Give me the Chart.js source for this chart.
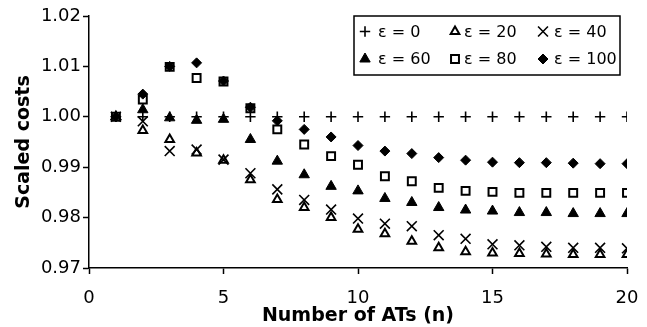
<!DOCTYPE html>
<html lang="en">
<head>
<meta charset="UTF-8">
<title>Scaled costs vs number of ATs</title>
<script src="https://cdn.jsdelivr.net/npm/chart.js@4"></script>
<style>
  body { margin: 0; background: #fff; }
  #wrap { width: 647px; height: 327px; }
</style>
</head>
<body>
<div id="wrap"><canvas id="costChart" width="647" height="327"></canvas></div>
<script>
// data
const nValues = [1, 2, 3, 4, 5, 6, 7, 8, 9, 10, 11, 12, 13, 14, 15, 16, 17, 18, 19, 20];
const eps0 = [1.000, 1.000, 1.000, 1.000, 1.000, 1.000, 1.000, 1.000, 1.000, 1.000,
              1.000, 1.000, 1.000, 1.000, 1.000, 1.000, 1.000, 1.000, 1.000, 1.000];
const eps20 = [1.000, 0.9973, 0.9955, 0.9928, 0.9914, 0.9875, 0.9836, 0.9820, 0.9800, 0.9777,
               0.9768, 0.9753, 0.9740, 0.9732, 0.9730, 0.9729, 0.9728, 0.9727, 0.9727, 0.9727];
const eps40 = [1.000, 0.9991, 0.9932, 0.9935, 0.9915, 0.9888, 0.9856, 0.9835, 0.9816, 0.9798,
               0.9788, 0.9783, 0.9765, 0.9758, 0.9747, 0.9745, 0.9742, 0.9740, 0.9740, 0.9739];
const eps60 = [1.000, 1.0014, 0.9998, 0.9993, 0.9995, 0.9955, 0.9912, 0.9885, 0.9862, 0.9853,
               0.9838, 0.9830, 0.9820, 0.9815, 0.9813, 0.9810, 0.9810, 0.9808, 0.9808, 0.9808];
const eps80 = [1.000, 1.0034, 1.0099, 1.0077, 1.0070, 1.0017, 0.9975, 0.9945, 0.9922, 0.9905,
               0.9882, 0.9872, 0.9859, 0.9853, 0.9851, 0.9849, 0.9849, 0.9849, 0.9849, 0.9849];
const eps100 = [1.000, 1.0045, 1.0100, 1.0107, 1.0071, 1.0019, 0.9992, 0.9975, 0.9960, 0.9943,
                0.9932, 0.9927, 0.9919, 0.9914, 0.9910, 0.9909, 0.9909, 0.9908, 0.9907, 0.9907];
const seriesLabels = ['ε = 0', 'ε = 20', 'ε = 40', 'ε = 60', 'ε = 80', 'ε = 100'];
const xTicks = [0, 5, 10, 15, 20];
const yTicks = [0.97, 0.98, 0.99, 1.00, 1.01, 1.02];

const FONT = '"DejaVu Sans", "Liberation Sans", Arial, sans-serif';

// marker look for each series: + , open triangle, x, filled triangle, open square, diamond
const markers = [
    { style: 'cross',    radius: 5.2, fill: '#000', width: 1.6 },
    { style: 'triangle', radius: 5,   fill: '#fff', width: 2 },
    { style: 'crossRot', radius: 7,   fill: '#000', width: 1.6 },
    { style: 'triangle', radius: 6,   fill: '#000', width: 1 },
    { style: 'rect',     radius: 5.6, fill: '#fff', width: 2 },
    { style: 'rectRot',  radius: 5,   fill: '#000', width: 1 }
];
const allSeries = [eps0, eps20, eps40, eps60, eps80, eps100];

const datasets = allSeries.map((vals, i) => ({
    label: seriesLabels[i],
    data: nValues.map((n, k) => ({ x: n, y: vals[k] })),
    showLine: false,
    pointStyle: markers[i].style,
    pointRadius: markers[i].radius,
    pointBackgroundColor: markers[i].fill,
    pointBorderColor: '#000',
    pointBorderWidth: markers[i].width,
    order: 5 - i
}));

// boxed legend, 3 columns x 2 rows, top right of plot
const boxLegend = {
    id: 'boxLegend',
    afterDraw(chart) {
        const ctx = chart.ctx;
        const area = chart.chartArea;
        const left = area.right - 273, top = area.top, w = 266, h = 59;
        ctx.save();
        ctx.fillStyle = '#fff';
        ctx.fillRect(left, top, w, h);
        ctx.strokeStyle = '#000';
        ctx.lineWidth = 1.5;
        ctx.strokeRect(left, top, w, h);
        const markX = [11, 101, 189];
        const textX = [24, 110, 200];
        const rowY = [15.5, 43];
        ctx.font = '16px ' + FONT;
        ctx.textBaseline = 'middle';
        ctx.textAlign = 'left';
        seriesLabels.forEach((lab, i) => {
            const col = i % 3, row = Math.floor(i / 3);
            const m = markers[i];
            ctx.fillStyle = m.fill;
            ctx.strokeStyle = '#000';
            ctx.lineWidth = m.width;
            Chart.helpers.drawPoint(ctx, { pointStyle: m.style, radius: m.radius, borderWidth: m.width },
                left + markX[col], top + rowY[row]);
            ctx.fillStyle = '#000';
            ctx.fillText(lab, left + textX[col], top + rowY[row] + 1);
        });
        ctx.restore();
    }
};

new Chart(document.getElementById('costChart').getContext('2d'), {
    type: 'scatter',
    data: { datasets: datasets },
    options: {
        responsive: false,
        devicePixelRatio: 1,
        animation: false,
        layout: { padding: { top: 16, right: 20, left: 0, bottom: 0 } },
        plugins: {
            legend: { display: false },
            tooltip: { enabled: false }
        },
        scales: {
            x: {
                type: 'linear',
                min: 0,
                max: 20,
                afterBuildTicks: (scale) => { scale.ticks = xTicks.map(v => ({ value: v })); },
                afterFit: (scale) => {
                    scale.height = 59;
                    scale.paddingLeft = 0;
                    scale.paddingRight = 0;
                },
                grid: { drawOnChartArea: false, tickLength: 6, tickColor: '#000', tickWidth: 1.5 },
                border: { color: '#000', width: 1.5 },
                ticks: { color: '#000', font: { family: FONT, size: 18 }, padding: 14, maxRotation: 0 },
                title: {
                    display: true,
                    text: 'Number of ATs (n)',
                    color: '#000',
                    font: { family: FONT, size: 19, weight: 'bold' },
                    padding: { top: 0, bottom: 0 }
                }
            },
            y: {
                min: 0.97,
                max: 1.02,
                afterBuildTicks: (scale) => { scale.ticks = yTicks.map(v => ({ value: v })); },
                afterFit: (scale) => { scale.width = 89; },
                grid: { drawOnChartArea: false, tickLength: 6, tickColor: '#000', tickWidth: 1.5 },
                border: { color: '#000', width: 1.5 },
                ticks: {
                    color: '#000',
                    font: { family: FONT, size: 18 },
                    padding: 2,
                    callback: (v) => v.toFixed(2)
                },
                title: {
                    display: true,
                    text: 'Scaled costs',
                    color: '#000',
                    font: { family: FONT, size: 19, weight: 'bold' },
                    padding: { top: 13, bottom: 0 }
                }
            }
        }
    },
    plugins: [boxLegend]
});
</script>
</body>
</html>
